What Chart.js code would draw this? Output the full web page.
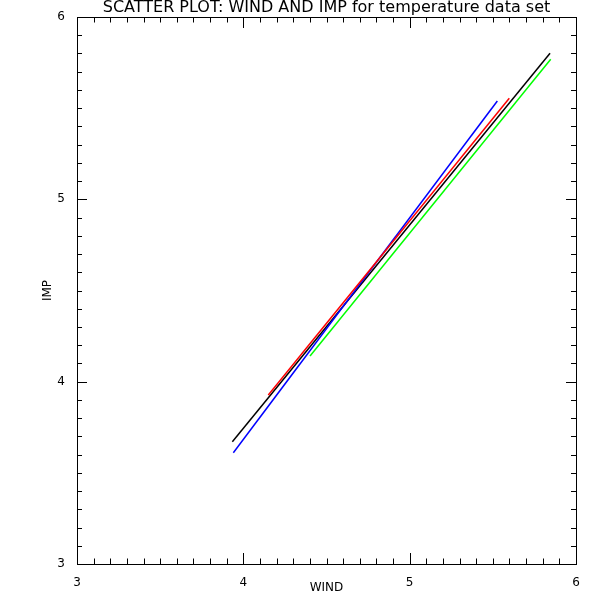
<!DOCTYPE html>
<html>
<head>
<meta charset="utf-8">
<script src="https://cdn.jsdelivr.net/npm/chart.js@4.4.1/dist/chart.umd.min.js"></script>
<style>
	html, body { margin: 0; padding: 0; background: #fff; }
	canvas { display: block; }
</style>
</head>
<body>
<canvas id="chart" width="600" height="600"></canvas>
<script>
// fitted lines, each from its first to its last point (WIND, IMP)
const blackWind = [3.934, 5.844];
const blackImp = [3.671, 5.801];
const blueWind = [3.940, 5.527];
const blueImp = [3.610, 5.539];
const redWind = [4.150, 5.599];
const redImp = [3.927, 5.554];
const greenWind = [4.401, 5.848];
const greenImp = [4.141, 5.768];

const axisMin = 3;
const axisMax = 6;
const minorStep = 0.1;
const titleText = 'SCATTER PLOT: WIND AND IMP for temperature data set';

const pts = (xs, ys) => xs.map((x, i) => ({ x: x, y: ys[i] }));

const line = (label, xs, ys, color) => ({
	label: label,
	data: pts(xs, ys),
	showLine: true,
	borderColor: color,
	backgroundColor: color,
	borderWidth: 1.5,
	pointRadius: 0
});

// frame, inward ticks on all four sides, and the title
const idlFrame = {
	id: 'idlFrame',
	afterDraw(chart) {
		const { ctx, chartArea: a, scales: { x, y } } = chart;
		ctx.save();
		ctx.strokeStyle = '#000';
		ctx.lineWidth = 1;
		ctx.strokeRect(a.left + 0.5, a.top + 0.5, a.right - a.left, a.bottom - a.top);
		ctx.beginPath();
		const n = Math.round((axisMax - axisMin) / minorStep);
		for (let i = 0; i <= n; i++) {
			const v = axisMin + i * minorStep;
			const major = i % 10 === 0;
			const px = Math.round(x.getPixelForValue(v)) + 0.5;
			const lx = major ? 11 : 5.5;
			ctx.moveTo(px, a.bottom); ctx.lineTo(px, a.bottom - lx);
			ctx.moveTo(px, a.top); ctx.lineTo(px, a.top + lx);
			const py = Math.round(y.getPixelForValue(v)) + 0.5;
			const ly = major ? 10 : 5;
			ctx.moveTo(a.left, py); ctx.lineTo(a.left + ly, py);
			ctx.moveTo(a.right, py); ctx.lineTo(a.right - ly, py);
		}
		ctx.stroke();
		ctx.fillStyle = '#000';
		ctx.font = '16px "DejaVu Sans"';
		ctx.textAlign = 'center';
		ctx.textBaseline = 'middle';
		ctx.fillText(titleText, (a.left + a.right) / 2, 8);
		ctx.restore();
	}
};

new Chart(document.getElementById('chart'), {
	type: 'scatter',
	data: {
		datasets: [
			line('red', redWind, redImp, '#ff0000'),
			line('blue', blueWind, blueImp, '#0000ff'),
			line('black', blackWind, blackImp, '#000000'),
			line('green', greenWind, greenImp, '#00ff00')
		]
	},
	options: {
		responsive: false,
		animation: false,
		layout: { padding: { top: 17, right: 24, left: 0, bottom: 0 } },
		plugins: {
			legend: { display: false },
			tooltip: { enabled: false }
		},
		scales: {
			x: {
				type: 'linear',
				min: axisMin,
				max: axisMax,
				afterFit: s => { s.height = 36; },
				grid: { display: false },
				border: { display: false },
				ticks: {
					stepSize: 1,
					color: '#000',
					padding: 4,
					maxRotation: 0,
					font: { family: 'DejaVu Sans', size: 12 }
				},
				title: {
					display: true,
					text: 'WIND',
					color: '#000',
					padding: { bottom: 5 },
					font: { family: 'DejaVu Sans', size: 12 }
				}
			},
			y: {
				type: 'linear',
				min: axisMin,
				max: axisMax,
				afterFit: s => { s.width = 77; },
				grid: { display: false },
				border: { display: false },
				ticks: {
					stepSize: 1,
					color: '#000',
					padding: 4,
					font: { family: 'DejaVu Sans', size: 12 }
				},
				title: {
					display: true,
					text: 'IMP',
					color: '#000',
					padding: { top: 41 },
					font: { family: 'DejaVu Sans', size: 12 }
				}
			}
		}
	},
	plugins: [idlFrame]
});
</script>
</body>
</html>
